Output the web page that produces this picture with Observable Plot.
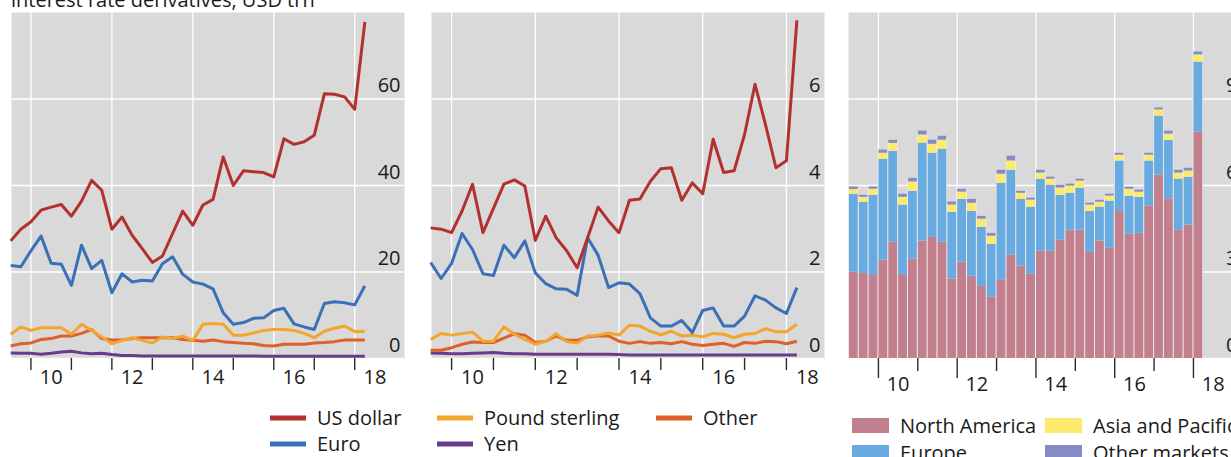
<!DOCTYPE html>
<html><head><meta charset="utf-8">
<script src="https://cdn.jsdelivr.net/npm/d3@7"></script>
<script src="https://cdn.jsdelivr.net/npm/@observablehq/plot@0.6"></script>
<style>
body{margin:0;background:#fff;font-family:"Open Sans",sans-serif;color:#1a1a1a}
#root{position:relative;width:1231px;height:457px;overflow:hidden;background:#fff}
#root > svg, #root > figure{position:absolute;margin:0}
</style></head><body><div id="root"></div>
<script>
// ---------- data ----------
const titleText = "interest rate derivatives, USD trn";
const lineStart = {year: 2009, quarter: 3};   // first quarter of the line panels
const barStart = {year: 2009, quarter: 2};    // first quarter of the bar panel
const yearTicks = [2010, 2011, 2012, 2013, 2014, 2015, 2016, 2017, 2018];
const gridYears = [2010, 2012, 2014, 2016, 2018];
const yearLabels = ["10", "12", "14", "16", "18"];

const currencyNames = ["US dollar", "Euro", "Pound sterling", "Yen", "Other"];
const currencyColors = ["#B2312F", "#3B70B7", "#F2A62B", "#6A3A8C", "#E0602A"];

// Left panel (0–80)
const usd1 = [27.2,29.9,31.6,34.3,35.0,35.6,32.9,36.4,41.2,38.9,29.9,32.7,28.5,25.4,22.2,23.7,28.9,34.1,30.8,35.5,36.8,46.6,40.0,43.4,43.2,43.0,42.0,50.8,49.5,50.1,51.6,61.2,61.1,60.5,57.6,77.8];
const eur1 = [21.5,21.2,24.9,28.3,22.0,21.8,16.9,26.2,20.8,22.7,15.2,19.6,17.7,18.1,17.9,21.9,23.5,19.5,17.7,17.2,16.1,10.6,7.9,8.3,9.3,9.4,11.1,11.6,8.0,7.3,6.7,12.7,13.1,12.9,12.4,16.8];
const gbp1 = [5.6,7.3,6.5,7.1,7.1,7.1,5.6,7.9,6.5,5.0,3.4,4.2,4.8,4.2,3.6,5.0,4.6,5.2,4.2,7.9,8.1,7.9,5.4,5.4,5.9,6.5,6.7,6.7,6.5,5.8,4.8,6.3,7.0,7.5,6.2,6.3];
const jpy1 = [1.3,1.2,1.2,1.0,1.2,1.5,1.7,1.3,1.1,1.2,0.9,0.7,0.7,0.6,0.6,0.6,0.6,0.6,0.6,0.6,0.6,0.6,0.6,0.6,0.6,0.5,0.5,0.5,0.5,0.5,0.5,0.5,0.5,0.5,0.5,0.5];
const oth1 = [2.9,3.4,3.6,4.4,4.6,5.2,5.2,5.8,6.7,4.6,4.3,4.3,4.6,4.8,4.8,4.8,4.8,4.4,4.2,4.0,4.3,3.9,3.7,3.5,3.4,3.0,2.9,3.3,3.3,3.3,3.6,3.7,3.9,4.3,4.3,4.3];
const yTicks1 = [0, 20, 40, 60];
const yMax1 = 80;

// Middle panel (0–8)
const usd2 = [3.02,2.99,2.91,3.41,4.03,2.91,3.47,4.03,4.13,3.99,2.73,3.29,2.79,2.49,2.10,2.79,3.50,3.18,2.91,3.66,3.69,4.10,4.39,4.41,3.66,4.06,3.81,5.07,4.30,4.34,5.18,6.34,5.41,4.41,4.57,7.82];
const eur2 = [2.22,1.85,2.20,2.89,2.52,1.96,1.92,2.62,2.33,2.72,1.98,1.73,1.61,1.60,1.46,2.79,2.39,1.64,1.75,1.72,1.50,0.94,0.75,0.75,0.88,0.60,1.11,1.17,0.75,0.75,0.98,1.45,1.35,1.17,1.04,1.64];
const gbp2 = [0.44,0.58,0.54,0.58,0.61,0.40,0.40,0.73,0.56,0.44,0.33,0.40,0.57,0.39,0.36,0.52,0.54,0.59,0.54,0.77,0.75,0.63,0.55,0.63,0.52,0.54,0.50,0.58,0.56,0.48,0.56,0.58,0.69,0.62,0.62,0.79];
const jpy2 = [0.13,0.12,0.11,0.11,0.12,0.13,0.14,0.12,0.11,0.11,0.10,0.10,0.10,0.10,0.10,0.10,0.10,0.10,0.09,0.08,0.08,0.08,0.08,0.08,0.08,0.08,0.08,0.08,0.08,0.08,0.08,0.08,0.08,0.08,0.08,0.08];
const oth2 = [0.19,0.19,0.25,0.33,0.38,0.37,0.37,0.47,0.57,0.54,0.37,0.40,0.52,0.42,0.42,0.50,0.52,0.52,0.40,0.35,0.39,0.35,0.37,0.34,0.39,0.33,0.30,0.33,0.35,0.28,0.37,0.35,0.40,0.39,0.34,0.40];
const yTicks2 = [0, 2, 4, 6];
const yMax2 = 8;

// Right panel (stacked bars)
const regionNames = ["North America", "Europe", "Asia and Pacific", "Other markets"];
const regionColors = ["#C27F8E", "#69ABE0", "#FDE96E", "#848BC5"];
const northAmerica = [2.99,2.95,2.88,3.41,4.03,2.91,3.44,4.07,4.20,4.03,2.76,3.34,2.85,2.50,2.12,2.71,3.58,3.20,2.92,3.72,3.72,4.10,4.45,4.45,3.68,4.07,3.82,5.10,4.31,4.34,5.28,6.36,5.52,4.45,4.63,7.85];
const europe = [2.71,2.47,2.78,3.50,3.16,2.41,2.36,3.40,2.92,3.23,2.31,2.18,2.25,2.05,1.84,3.37,2.95,2.32,2.33,2.50,2.29,1.56,1.28,1.46,1.42,1.18,1.64,1.75,1.32,1.25,1.57,2.05,2.05,1.77,1.66,2.43];
const asiaPacific = [0.16,0.17,0.21,0.21,0.27,0.27,0.32,0.28,0.31,0.31,0.25,0.25,0.28,0.28,0.28,0.31,0.32,0.21,0.24,0.21,0.21,0.25,0.25,0.24,0.22,0.17,0.17,0.20,0.24,0.18,0.20,0.21,0.21,0.21,0.21,0.25];
const otherMarkets = [0.09,0.07,0.08,0.11,0.11,0.11,0.13,0.14,0.14,0.14,0.11,0.10,0.14,0.10,0.10,0.14,0.17,0.07,0.07,0.10,0.07,0.10,0.07,0.07,0.07,0.07,0.07,0.07,0.07,0.07,0.07,0.07,0.11,0.10,0.10,0.10];
const yTicks3 = [0, 3, 6, 9];
const yMax3 = 12;

// ---------- helpers ----------
const qTime = (start, i) => start.year + (start.quarter - 1) / 4 + i / 4;
const root = document.getElementById("root");
const FONT = '"Open Sans", sans-serif';
const BG = "#D9D9D9";

function place(el, left, top) { el.style.left = left + "px"; el.style.top = top + "px"; root.appendChild(el); }

function baseMarks(yTicks) {
  return [
    Plot.frame({fill: BG, stroke: null}),
    Plot.gridX(gridYears, {stroke: "white", strokeOpacity: 1, strokeWidth: 1.3}),
    Plot.gridY(yTicks, {stroke: "white", strokeOpacity: 1, strokeWidth: 1.3}),
  ];
}
function axisMarks(yTicks, longLen, shortLen, labelPad) {
  const longYears = yearTicks.filter(y => y % 2 === 0);
  const shortYears = yearTicks.filter(y => y % 2 === 1);
  return [
    Plot.axisX(longYears, {tickSize: longLen, tickFormat: () => "", label: null, stroke: "#2b2b2b", strokeWidth: 1.4}),
    Plot.axisX(shortYears, {tickSize: shortLen, tickFormat: () => "", label: null, stroke: "#2b2b2b", strokeWidth: 1.4}),
    Plot.axisX(gridYears.map(y => y + 0.5), {tickSize: 0, tickPadding: labelPad, label: null, tickFormat: (d, i) => yearLabels[i], fill: "#1a1a1a"}),
    Plot.axisY(yTicks, {anchor: "right", tickSize: 0, tickPadding: 0, label: null, textAnchor: "end", dx: -4, dy: -13, fill: "#1a1a1a"})
  ];
}

function linePanel(series, yMax, yTicks, xDomain) {
  const rows = [];
  series.forEach((vals, k) => vals.forEach((v, i) => rows.push({t: qTime(lineStart, i), v, name: currencyNames[k]})));
  // draw order: Yen, Other, Pound, Euro, US dollar on top
  const order = ["Yen", "Other", "Pound sterling", "Euro", "US dollar"];
  rows.sort((a, b) => order.indexOf(a.name) - order.indexOf(b.name));
  return Plot.plot({
    width: 420, height: 400, marginLeft: 11, marginRight: 16, marginTop: 12, marginBottom: 42,
    style: {fontFamily: FONT, fontSize: "20px", background: "transparent", overflow: "visible"},
    x: {domain: xDomain, axis: null},
    y: {domain: [0, yMax], axis: null},
    color: {domain: currencyNames, range: currencyColors},
    marks: [
      ...baseMarks(yTicks),
      Plot.lineY(rows, {x: "t", y: "v", z: "name", stroke: "name", strokeWidth: 3, strokeLinejoin: "round", strokeLinecap: "butt"}),
      ...axisMarks(yTicks, 12, 12, 11)
    ]
  });
}

// ---------- panels ----------
const p1 = linePanel([usd1, eur1, gbp1, jpy1, oth1], yMax1, yTicks1, [2009.52, 2019.23]);
place(p1, 0, 0);
const p2 = linePanel([usd2, eur2, gbp2, jpy2, oth2], yMax2, yTicks2, [2009.52, 2018.91]);
place(p2, 420, 0);

const regionSeries = [northAmerica, europe, asiaPacific, otherMarkets];
const barRows = [], totals = [];
northAmerica.forEach((_, i) => {
  let base = 0;
  const t1 = qTime(barStart, i), t2 = t1 + 0.25;
  regionSeries.forEach((vals, k) => {
    barRows.push({t1, t2, y1: base, y2: base + vals[i], region: regionNames[k]});
    base += vals[i];
  });
  totals.push({t1, t2, total: base});
});
const p3 = Plot.plot({
  width: 420, height: 400, marginLeft: 11, marginRight: 16, marginTop: 12, marginBottom: 42,
  style: {fontFamily: FONT, fontSize: "20px", background: "transparent", overflow: "visible"},
  x: {domain: [2009.24, 2019.22], axis: null},
  y: {domain: [0, yMax3], axis: null},
  color: {domain: regionNames, range: regionColors},
  marks: [
    ...baseMarks(yTicks3),
    Plot.rect(totals, {x1: "t1", x2: "t2", y1: 0, y2: "total", fill: "#F2F2F2"}),
    Plot.rect(barRows, {x1: "t1", x2: "t2", y1: "y1", y2: "y2", fill: "region", insetLeft: 0.5, insetRight: 0.5}),
    ...axisMarks(yTicks3, 20, 13, 18.5)
  ]
});
place(p3, 837, 0);

// ---------- title + legends ----------
const ov = d3.create("svg").attr("width", 1231).attr("height", 457)
  .style("font-family", FONT).style("font-size", "20px").style("pointer-events", "none");
ov.append("text").attr("x", 11).attr("y", 7).attr("fill", "#1a1a1a").text(titleText);

const leftLegend = [
  {name: "US dollar", x: 270, row: 0},
  {name: "Pound sterling", x: 437, row: 0},
  {name: "Other", x: 656, row: 0},
  {name: "Euro", x: 270, row: 1},
  {name: "Yen", x: 437, row: 1}
];
leftLegend.forEach(d => {
  const y = 418 + d.row * 26;
  const col = currencyColors[currencyNames.indexOf(d.name)];
  ov.append("line").attr("x1", d.x).attr("x2", d.x + 36).attr("y1", y).attr("y2", y)
    .attr("stroke", col).attr("stroke-width", 5);
  ov.append("text").attr("x", d.x + 47).attr("y", y + 7).attr("fill", "#1a1a1a").text(d.name);
});
const rightLegend = [
  {name: "North America", x: 852, row: 0},
  {name: "Asia and Pacific", x: 1045, row: 0},
  {name: "Europe", x: 852, row: 1},
  {name: "Other markets", x: 1045, row: 1}
];
rightLegend.forEach(d => {
  const y = 418 + d.row * 27;
  ov.append("rect").attr("x", d.x).attr("y", y).attr("width", 37).attr("height", 15)
    .attr("fill", regionColors[regionNames.indexOf(d.name)]);
  ov.append("text").attr("x", d.x + 48).attr("y", y + 14.7).attr("fill", "#1a1a1a").text(d.name);
});
const ovNode = ov.node();
place(ovNode, 0, 0);
</script></body></html>
